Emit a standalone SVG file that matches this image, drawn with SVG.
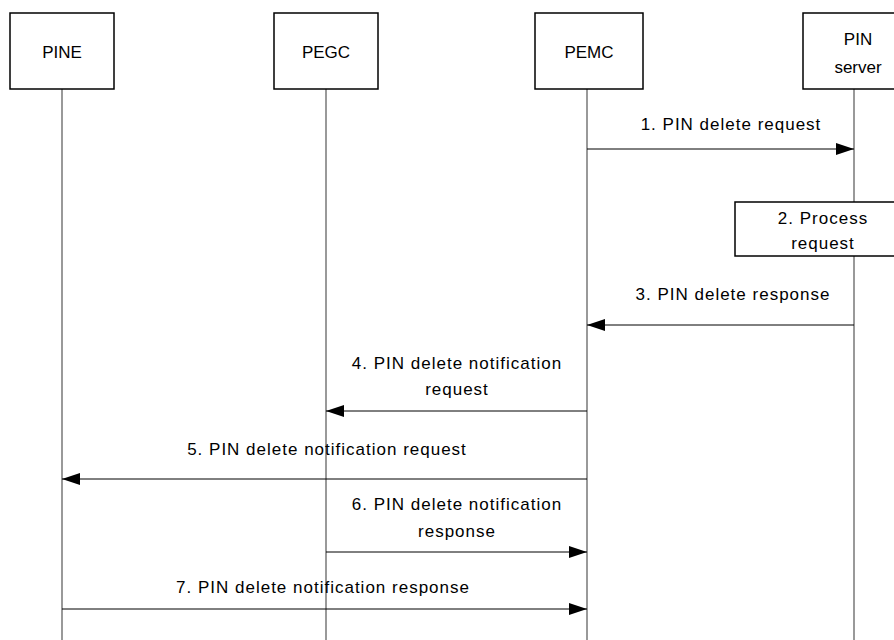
<svg xmlns="http://www.w3.org/2000/svg" width="894" height="640" viewBox="0 0 894 640">
<style>
.box{fill:#fff;stroke:#000;stroke-width:1.5}
.life{stroke:#555;stroke-width:1.2;fill:none}
.msg{stroke:#000;stroke-width:1;fill:none;marker-end:url(#ah)}
text{font-family:"Liberation Sans",Arial,sans-serif;font-size:17px;fill:#000;text-anchor:middle}
.lbl{letter-spacing:1px}
</style>
<defs>
<marker id="ah" markerWidth="18" markerHeight="12" refX="18" refY="6" orient="auto" markerUnits="userSpaceOnUse">
<path d="M0,0 L18,6 L0,12 Z" fill="#000"/>
</marker>
</defs>
<g id="lifelines">
<line class="life" x1="62" y1="89" x2="62" y2="640"/>
<line class="life" x1="326" y1="89" x2="326" y2="640"/>
<line class="life" x1="587" y1="89" x2="587" y2="640"/>
<line class="life" x1="854" y1="89" x2="854" y2="202"/>
<line class="life" x1="854" y1="256" x2="854" y2="640"/>
</g>
<g id="PINE"><rect class="box" x="10" y="13" width="104" height="76"/><text x="62" y="58">PINE</text></g>
<g id="PEGC"><rect class="box" x="274" y="13" width="104" height="76"/><text x="326" y="58">PEGC</text></g>
<g id="PEMC"><rect class="box" x="535" y="13" width="108" height="76"/><text x="589" y="58">PEMC</text></g>
<g id="PINserver"><rect class="box" x="803" y="13" width="100" height="76"/><text x="858" y="45">PIN</text><text x="858" y="73">server</text></g>
<g id="process"><rect class="box" x="735" y="202" width="168" height="54"/><text class="lbl" x="823" y="224">2. Process</text><text class="lbl" x="823" y="249">request</text></g>
<g id="connectors">
<line class="msg" x1="587" y1="149" x2="854" y2="149"/>
<line class="msg" x1="854" y1="325" x2="587" y2="325"/>
<line class="msg" x1="587" y1="411" x2="326" y2="411"/>
<line class="msg" x1="587" y1="479" x2="62" y2="479"/>
<line class="msg" x1="326" y1="552" x2="587" y2="552"/>
<line class="msg" x1="62" y1="609" x2="587" y2="609"/>
</g>
<g id="labels" class="lbl">
<text class="lbl" x="731" y="130">1. PIN delete request</text>
<text class="lbl" x="733" y="300">3. PIN delete response</text>
<text class="lbl" x="457" y="369">4. PIN delete notification</text>
<text class="lbl" x="457" y="395">request</text>
<text class="lbl" x="327" y="455">5. PIN delete notification request</text>
<text class="lbl" x="457" y="510">6. PIN delete notification</text>
<text class="lbl" x="457" y="537">response</text>
<text class="lbl" x="323" y="593">7. PIN delete notification response</text>
</g>
</svg>
